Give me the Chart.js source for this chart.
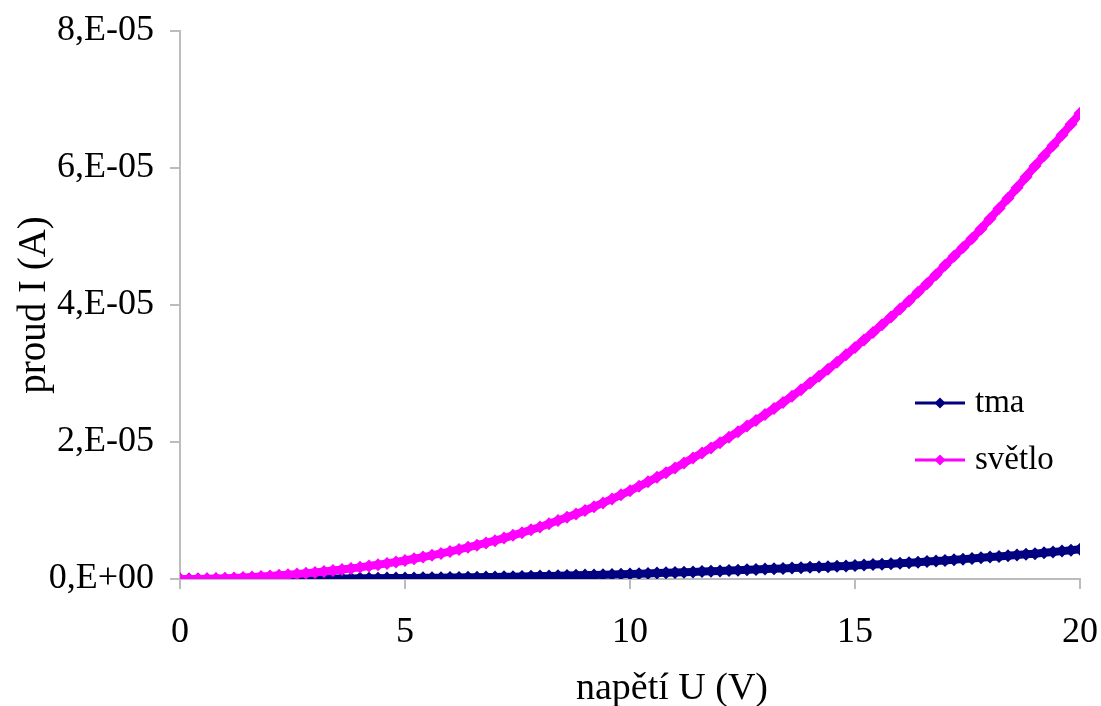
<!DOCTYPE html>
<html>
<head>
<meta charset="utf-8">
<script src="https://cdn.jsdelivr.net/npm/chart.js@4.4.1/dist/chart.umd.min.js"></script>
<style>
  html, body { margin: 0; padding: 0; background: #fff; }
  #wrap { width: 1101px; height: 706px; }
</style>
</head>
<body>
<div id="wrap"><canvas id="ivChart" width="1101" height="706"></canvas></div>
<script>
// napětí U (V), krok 0,2 V
const napeti = [
  0, 0.2, 0.4, 0.6, 0.8, 1, 1.2, 1.4, 1.6, 1.8, 2, 2.2, 2.4, 2.6, 2.8, 3, 3.2, 3.4, 3.6, 3.8,
  4, 4.2, 4.4, 4.6, 4.8, 5, 5.2, 5.4, 5.6, 5.8, 6, 6.2, 6.4, 6.6, 6.8, 7, 7.2, 7.4, 7.6, 7.8,
  8, 8.2, 8.4, 8.6, 8.8, 9, 9.2, 9.4, 9.6, 9.8, 10, 10.2, 10.4, 10.6, 10.8, 11, 11.2, 11.4, 11.6, 11.8,
  12, 12.2, 12.4, 12.6, 12.8, 13, 13.2, 13.4, 13.6, 13.8, 14, 14.2, 14.4, 14.6, 14.8, 15, 15.2, 15.4, 15.6, 15.8,
  16, 16.2, 16.4, 16.6, 16.8, 17, 17.2, 17.4, 17.6, 17.8, 18, 18.2, 18.4, 18.6, 18.8, 19, 19.2, 19.4, 19.6, 19.8, 20
];

// proud ve tmě, v mikroampérech
const tmaUA = [
  0, 0.002, 0.004, 0.006, 0.008, 0.01, 0.013, 0.017, 0.021, 0.025, 0.03, 0.035, 0.041, 0.047, 0.053, 0.06, 0.067, 0.075, 0.083, 0.091,
  0.1, 0.11, 0.12, 0.13, 0.14, 0.15, 0.162, 0.174, 0.186, 0.198, 0.21, 0.227, 0.244, 0.262, 0.281, 0.3, 0.323, 0.346, 0.37, 0.395,
  0.42, 0.45, 0.48, 0.51, 0.54, 0.57, 0.6, 0.635, 0.67, 0.705, 0.74, 0.78, 0.82, 0.86, 0.9, 0.94, 0.98, 1.03, 1.08, 1.13,
  1.18, 1.23, 1.28, 1.34, 1.39, 1.45, 1.5, 1.55, 1.6, 1.65, 1.7, 1.75, 1.8, 1.86, 1.91, 1.97, 2.03, 2.1, 2.16, 2.23,
  2.3, 2.38, 2.46, 2.54, 2.62, 2.7, 2.8, 2.9, 3.0, 3.1, 3.2, 3.3, 3.4, 3.5, 3.6, 3.7, 3.82, 3.94, 4.07, 4.2, 4.35
];

// proud při osvětlení, v mikroampérech
const svetloUA = [
  0, 0.005, 0.015, 0.035, 0.065, 0.1, 0.16, 0.22, 0.29, 0.37, 0.45, 0.54, 0.63, 0.73, 0.84, 0.95, 1.09, 1.23, 1.38, 1.54,
  1.7, 1.89, 2.08, 2.28, 2.49, 2.7, 2.95, 3.2, 3.46, 3.73, 4.0, 4.31, 4.62, 4.94, 5.27, 5.6, 5.98, 6.37, 6.77, 7.18,
  7.6, 8.06, 8.53, 9.01, 9.5, 10.0, 10.55, 11.11, 11.69, 12.29, 12.9, 13.53, 14.18, 14.85, 15.52, 16.2, 16.92, 17.65, 18.39, 19.14,
  19.9, 20.7, 21.5, 22.32, 23.15, 24.0, 24.88, 25.78, 26.69, 27.63, 28.6, 29.6, 30.62, 31.66, 32.72, 33.8, 34.9, 36.0, 37.12, 38.25,
  39.4, 40.6, 41.85, 43.12, 44.43, 45.8, 47.1, 48.4, 49.7, 51.1, 52.6, 54.1, 55.6, 57.1, 58.7, 60.3, 61.8, 63.3, 64.8, 66.4, 68.0
];

const xTicks = [0, 5, 10, 15, 20];
const yTicks = [0, 2e-5, 4e-5, 6e-5, 8e-5];
const yTickLabels = ['0,E+00', '2,E-05', '4,E-05', '6,E-05', '8,E-05'];
const seriesNames = ['tma', 'světlo'];
const seriesColors = ['#000080', '#FF00FF'];
const xTitle = 'napětí U (V)';
const yTitle = 'proud I (A)';

const FONT = '"Liberation Serif", "Times New Roman", serif';
const AXIS_GREY = '#bcbcbc';

function toPoints(ua) {
  return napeti.map((u, i) => ({ x: u, y: ua[i] * 1e-6 }));
}

// legenda uvnitř grafu vpravo + popisek osy x (v Excelu trochu vpravo od středu)
const extras = {
  id: 'extras',
  afterDraw(chart) {
    const { ctx, chartArea } = chart;
    ctx.save();
    seriesNames.forEach((name, i) => {
      const y = chartArea.top + 372 + i * 57;
      const x0 = chartArea.right - 165;
      const x1 = chartArea.right - 115;
      ctx.strokeStyle = seriesColors[i];
      ctx.lineWidth = 3;
      ctx.beginPath();
      ctx.moveTo(x0, y);
      ctx.lineTo(x1, y);
      ctx.stroke();
      const cx = (x0 + x1) / 2;
      ctx.fillStyle = seriesColors[i];
      ctx.beginPath();
      ctx.moveTo(cx, y - 5.5);
      ctx.lineTo(cx + 5.5, y);
      ctx.lineTo(cx, y + 5.5);
      ctx.lineTo(cx - 5.5, y);
      ctx.closePath();
      ctx.fill();
      ctx.fillStyle = '#000';
      ctx.font = '33px ' + FONT;
      ctx.textAlign = 'left';
      ctx.textBaseline = 'middle';
      ctx.fillText(name, x1 + 10, y);
    });
    ctx.fillStyle = '#000';
    ctx.font = '38px ' + FONT;
    ctx.textAlign = 'center';
    ctx.textBaseline = 'middle';
    ctx.fillText(xTitle, (chartArea.left + chartArea.right) / 2 + 42, 689);
    ctx.restore();
  }
};

const ctx = document.getElementById('ivChart').getContext('2d');
new Chart(ctx, {
  type: 'line',
  data: {
    datasets: [
      {
        label: seriesNames[0],
        data: toPoints(tmaUA),
        borderColor: seriesColors[0],
        backgroundColor: seriesColors[0],
        borderWidth: 8,
        pointStyle: 'rectRot',
        pointRadius: 6.5,
        pointBorderWidth: 0,
        tension: 0,
        order: 1
      },
      {
        label: seriesNames[1],
        data: toPoints(svetloUA),
        borderColor: seriesColors[1],
        backgroundColor: seriesColors[1],
        borderWidth: 8,
        pointStyle: 'rectRot',
        pointRadius: 6.5,
        pointBorderWidth: 0,
        tension: 0,
        order: 0
      }
    ]
  },
  options: {
    responsive: false,
    animation: false,
    devicePixelRatio: 1,
    layout: { padding: { top: 31, right: 21, left: 0, bottom: 0 } },
    plugins: {
      legend: { display: false },
      tooltip: { enabled: false }
    },
    scales: {
      x: {
        type: 'linear',
        min: 0,
        max: 20,
        afterBuildTicks: s => { s.ticks = xTicks.map(v => ({ value: v })); },
        afterFit: s => {
          s.height = 706 - 579;
          s.paddingLeft = 0;
          s.paddingRight = 0;
        },
        grid: { display: true, drawOnChartArea: false, drawTicks: true, tickLength: 10, color: AXIS_GREY, lineWidth: 2 },
        border: { display: true, color: AXIS_GREY, width: 2 },
        ticks: { color: '#000', font: { family: FONT, size: 36 }, padding: 22, maxRotation: 0 },
        title: { display: false }
      },
      y: {
        type: 'linear',
        min: 0,
        max: 8e-5,
        afterBuildTicks: s => { s.ticks = yTicks.map(v => ({ value: v })); },
        afterFit: s => {
          s.width = 180;
          s.paddingTop = 0;
          s.paddingBottom = 0;
        },
        grid: { display: true, drawOnChartArea: false, drawTicks: true, tickLength: 10, color: AXIS_GREY, lineWidth: 2 },
        border: { display: true, color: AXIS_GREY, width: 2 },
        ticks: {
          color: '#000',
          font: { family: FONT, size: 36 },
          padding: 16,
          callback: (v, i) => yTickLabels[i]
        },
        title: { display: true, text: yTitle, color: '#000', font: { family: FONT, size: 39 }, padding: { top: 11 } }
      }
    }
  },
  plugins: [extras]
});
</script>
</body>
</html>
